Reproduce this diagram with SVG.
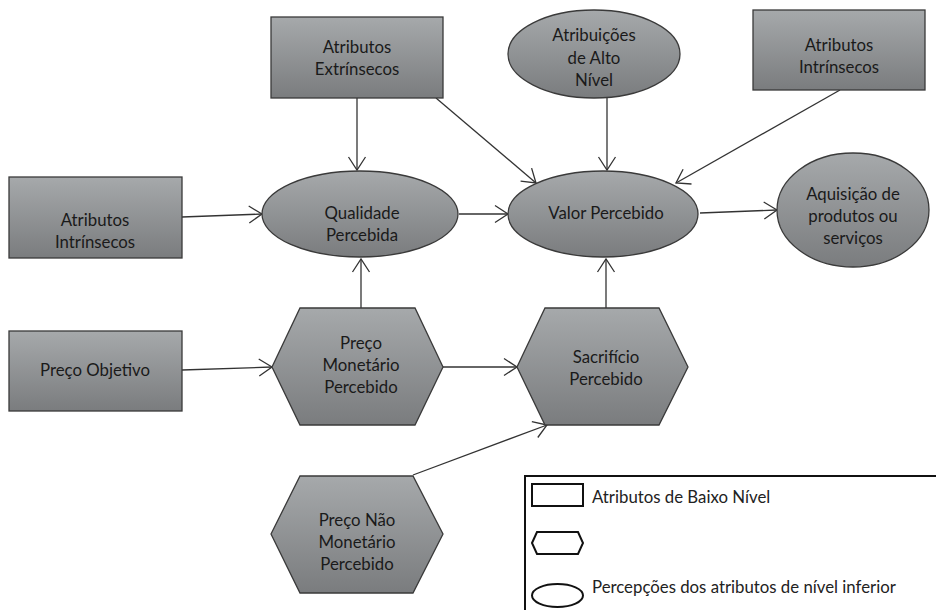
<svg xmlns="http://www.w3.org/2000/svg" width="936" height="610" viewBox="0 0 936 610">
<defs>
<linearGradient id="g" x1="0" y1="0" x2="0" y2="1">
<stop offset="0" stop-color="#a6a9ab"/>
<stop offset="1" stop-color="#7a7c7e"/>
</linearGradient>
<marker id="arr" markerUnits="userSpaceOnUse" markerWidth="16" markerHeight="20" refX="13" refY="8.5" orient="auto" overflow="visible">
<path d="M0,0 L13,8.5 L0,17" fill="none" stroke="#333" stroke-width="1.3"/>
</marker>
</defs>
<style>
.n{fill:url(#g);stroke:#3a3a3a;stroke-width:1.3}
.t{font-family:Lato,"Open Sans",sans-serif;font-size:16.8px;fill:#1a1a1a;text-anchor:middle}
.c line{stroke:#333;stroke-width:1.3;marker-end:url(#arr)}
.lg{fill:#fff;stroke:#111;stroke-width:2}
.lt{font-family:Lato,"Open Sans",sans-serif;font-size:16.8px;fill:#222}
</style>
<rect width="936" height="610" fill="#fff"/>
<g class="c" id="connectors">
<line x1="357" y1="98" x2="357" y2="170"/>
<line x1="436" y1="98" x2="536" y2="183"/>
<line x1="607" y1="98" x2="607" y2="170"/>
<line x1="840" y1="90" x2="676" y2="183"/>
<line x1="182" y1="217" x2="262" y2="214"/>
<line x1="459" y1="214" x2="508" y2="214"/>
<line x1="700" y1="213" x2="777" y2="210"/>
<line x1="361" y1="308" x2="361" y2="259"/>
<line x1="182" y1="370" x2="272" y2="367"/>
<line x1="443" y1="367" x2="517" y2="367"/>
<line x1="606" y1="308" x2="606" y2="259"/>
<line x1="413" y1="475" x2="547" y2="425"/>
</g>
<g id="atributos-extrinsecos">
<rect class="n" x="271" y="17" width="172" height="81"/>
<text class="t" x="357" y="53">Atributos</text>
<text class="t" x="357" y="75">Extrínsecos</text>
</g>
<g id="atribuicoes-alto-nivel">
<ellipse class="n" cx="594" cy="54" rx="86" ry="44"/>
<text class="t" x="594" y="41">Atribuições</text>
<text class="t" x="594" y="64">de Alto</text>
<text class="t" x="594" y="86">Nível</text>
</g>
<g id="atributos-intrinsecos-top">
<rect class="n" x="753" y="10" width="172" height="80"/>
<text class="t" x="839" y="51">Atributos</text>
<text class="t" x="839" y="73">Intrínsecos</text>
</g>
<g id="qualidade-percebida">
<ellipse class="n" cx="360" cy="214" rx="98" ry="43"/>
<text class="t" x="362" y="219">Qualidade</text>
<text class="t" x="362" y="241">Percebida</text>
</g>
<g id="valor-percebido">
<ellipse class="n" cx="603" cy="214" rx="95" ry="43"/>
<text class="t" x="606" y="219">Valor Percebido</text>
</g>
<g id="aquisicao">
<ellipse class="n" cx="853" cy="210" rx="76" ry="57"/>
<text class="t" x="853" y="200">Aquisição de</text>
<text class="t" x="853" y="222">produtos ou</text>
<text class="t" x="853" y="244">serviços</text>
</g>
<g id="atributos-intrinsecos-left">
<rect class="n" x="9" y="177" width="173" height="81"/>
<text class="t" x="95" y="226">Atributos</text>
<text class="t" x="95" y="248">Intrínsecos</text>
</g>
<g id="preco-objetivo">
<rect class="n" x="9" y="331" width="173" height="80"/>
<text class="t" x="95" y="376">Preço Objetivo</text>
</g>
<g id="preco-monetario">
<polygon class="n" points="272,367 300,308 415,308 443,367 415,425 300,425"/>
<text class="t" x="361" y="349">Preço</text>
<text class="t" x="361" y="371">Monetário</text>
<text class="t" x="361" y="393">Percebido</text>
</g>
<g id="sacrificio">
<polygon class="n" points="517,367 545,308 659,308 688,367 659,425 545,425"/>
<text class="t" x="606" y="363">Sacrifício</text>
<text class="t" x="606" y="385">Percebido</text>
</g>
<g id="preco-nao-monetario">
<polygon class="n" points="271,534 300,476 413,476 443,534 413,593 300,593"/>
<text class="t" x="357" y="526">Preço Não</text>
<text class="t" x="357" y="548">Monetário</text>
<text class="t" x="357" y="570">Percebido</text>
</g>
<g id="legend">
<rect x="525" y="476" width="420" height="150" fill="#fff" stroke="#111" stroke-width="2"/>
<rect class="lg" x="532" y="484" width="51" height="22"/>
<text class="lt" x="592" y="503">Atributos de Baixo Nível</text>
<polygon class="lg" points="532,543 537,532 578,532 583,543 578,554 537,554"/>
<ellipse class="lg" cx="557.5" cy="595.5" rx="25.5" ry="11.5"/>
<text class="lt" x="592" y="593">Percepções dos atributos de nível inferior</text>
</g>
</svg>
